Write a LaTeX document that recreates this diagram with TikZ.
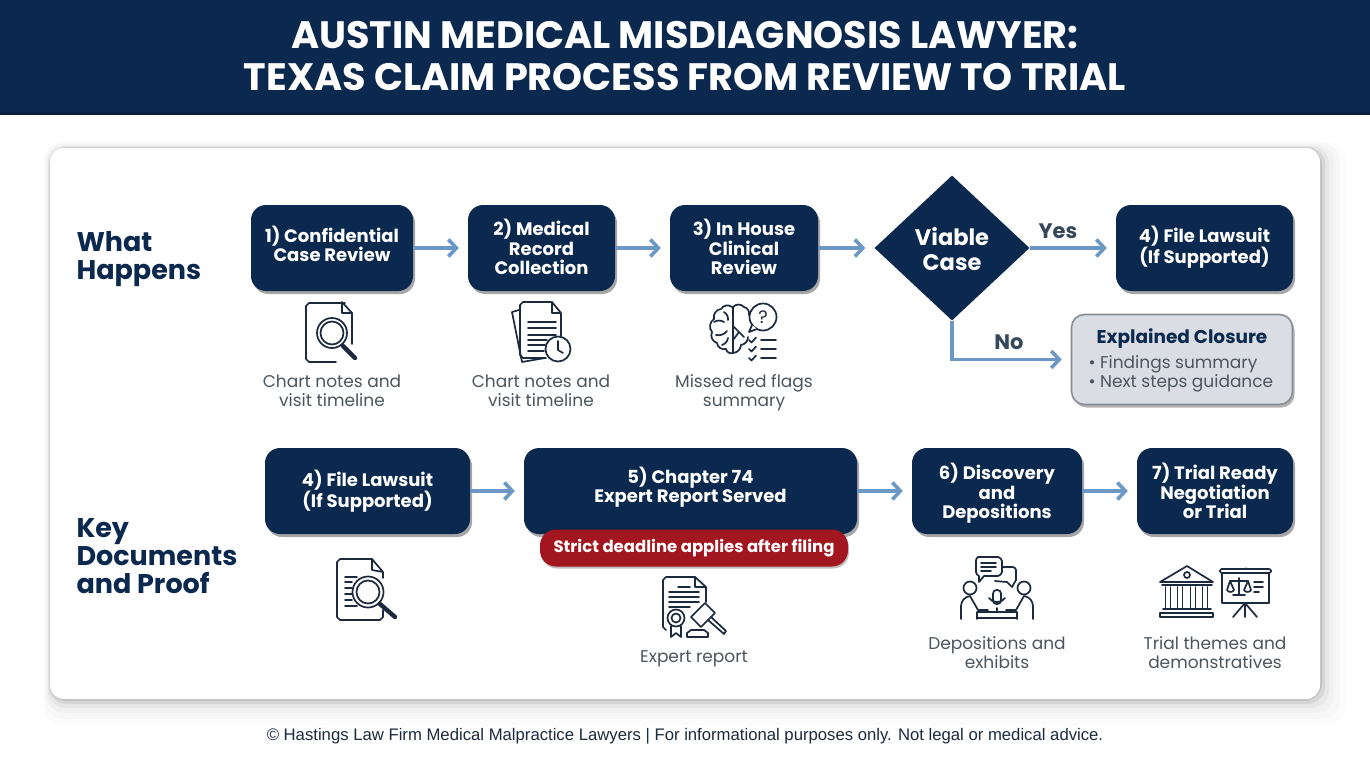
\documentclass[tikz,border=0pt]{standalone}
\usepackage{fontspec}
\setmainfont{Poppins}
\newfontfamily\footfont{Liberation Sans}
\usetikzlibrary{shapes.geometric,shadows,arrows.meta}
\definecolor{navy}{HTML}{0B284E}
\definecolor{flowblue}{HTML}{6C98C6}
\definecolor{greytext}{HTML}{4A5560}
\definecolor{inkline}{HTML}{1B2A3E}
\definecolor{closefill}{HTML}{DADEE4}
\definecolor{closeline}{HTML}{878D96}
\definecolor{alertred}{HTML}{A2161F}
\tikzset{
  stepbox/.style={fill=navy,rounded corners=15pt,text=white,align=center,minimum height=86pt,
    font=\fontsize{18}{19.5}\selectfont\bfseries,
    drop shadow={shadow xshift=2pt,shadow yshift=-3pt,opacity=.35,fill=black}},
  flow/.style={draw=flowblue,line width=3.6pt,-{Straight Barb[length=8pt,width=17pt,line width=3.6pt]},shorten >=9pt},
  flowlabel/.style={text=greytext!70!navy,font=\fontsize{21}{21}\selectfont\bfseries},
  sidelabel/.style={text=navy,align=left,anchor=west,font=\fontsize{27}{28}\selectfont\bfseries},
  caption/.style={text=greytext,align=center,font=\fontsize{17}{19}\selectfont},
  icon/.style={draw=inkline,line width=1.7pt,line cap=round,line join=round},
  iconthick/.style={draw=inkline,line width=4.4pt,line cap=round}
}
\begin{document}
\begin{tikzpicture}[x=1pt,y=-1pt]
\useasboundingbox (0,0) rectangle (1370,765);
\fill[fill=white] (0,0) rectangle (1370,765);
\fill[navy] (0,0) rectangle (1370,115);
\fill[navy!75!black] (0,112) rectangle (1370,115);
\node (title) at (685,56) [text=white,align=center,font=\fontsize{38.2}{42}\selectfont\bfseries] {AUSTIN MEDICAL MISDIAGNOSIS LAWYER:\\TEXAS CLAIM PROCESS FROM REVIEW TO TRIAL};

\foreach \s/\o in {26/.012,20/.018,14/.025,9/.04,5/.07,2/.1}
  \fill[black,opacity=\o,rounded corners=18pt] (50-\s/4,148-\s/4) rectangle (1320+\s,699+\s);
\node (card) at (685,423.5) [fill=white,rounded corners=14pt,minimum width=1270pt,minimum height=551pt] {};

\node (whathappens) at (73,259) [sidelabel] {What\\Happens};
\node (keydocs) at (73,556) [sidelabel] {Key\\Documents\\and Proof};

\node (review) at (332,248) [stepbox,minimum width=162pt,text depth=8pt] {1) Confidential\\Case Review};
\node (records) at (541.5,248) [stepbox,minimum width=147pt,text depth=2pt] {2) Medical\\Record\\Collection};
\node (clinical) at (744,248) [stepbox,minimum width=148pt,text depth=2pt] {3) In House\\Clinical\\Review};
\node (viable) at (952,248) [diamond,fill=navy,text=white,align=center,inner sep=0pt,minimum width=155pt,minimum height=145pt,text height=46pt,font=\fontsize{22.5}{25}\selectfont\bfseries] {Viable\\Case};
\node (lawsuit) at (1204.5,248) [stepbox,minimum width=177pt,text depth=6pt] {4) File Lawsuit\\(If Supported)};
\node (closure) at (1182,359.5) [fill=closefill,draw=closeline,line width=1.6pt,rounded corners=13pt,minimum width=221pt,minimum height=90pt,
  drop shadow={shadow xshift=2pt,shadow yshift=-3pt,opacity=.3,fill=black}] {};
\node (closehead) at (1182,339) [text=navy,font=\fontsize{18.5}{20}\selectfont\bfseries] {Explained Closure};
\node (closelist) at (1085,374) [anchor=west,text=greytext,align=left,font=\fontsize{17}{19}\selectfont] {\textbullet\ Findings summary\\\textbullet\ Next steps guidance};

\node (lawsuitb) at (367.5,491) [stepbox,minimum width=205pt] {4) File Lawsuit\\(If Supported)};
\node (chapter) at (690.5,491) [stepbox,minimum width=333pt,text depth=12pt] {5) Chapter 74\\Expert Report Served};
\node (discovery) at (997,491) [stepbox,minimum width=170pt,text depth=0pt] {6) Discovery\\and\\Depositions};
\node (trial) at (1215,491) [stepbox,minimum width=156pt] {7) Trial Ready\\Negotiation\\or Trial};
\node (deadline) at (694,548) [fill=alertred,text=white,rounded corners=16pt,minimum width=308pt,minimum height=37pt,font=\fontsize{16.5}{18}\selectfont\bfseries,
  drop shadow={shadow xshift=1pt,shadow yshift=-2pt,opacity=.25,fill=black}] {Strict deadline applies after filing};

\foreach \a/\b in {review/records,records/clinical,clinical/viable,viable/lawsuit,lawsuitb/chapter,chapter/discovery,discovery/trial}
  \draw[flow] (\a) -- (\b);
\coordinate (closein) at (closure.west);
\draw[flow] (viable.south) |- (closein);
\node (yes) at (1058,231) [flowlabel] {Yes};
\node (no) at (1009,342) [flowlabel] {No};

\node (cap1) at (332,390.5) [caption] {Chart notes and\\visit timeline};
\node (cap2) at (541,390.5) [caption] {Chart notes and\\visit timeline};
\node (cap3) at (744,392.5) [caption] {Missed red flags\\summary};
\node (cap5) at (694,658.5) [caption] {Expert report};
\node (cap6) at (997,652.5) [caption] {Depositions and\\exhibits};
\node (cap7) at (1215,652.5) [caption] {Trial themes and\\demonstratives};
\node (footer) at (685,736) [text=inkline,font=\fontsize{16.7}{18}\selectfont\footfont] {\textcopyright\ Hastings Law Firm Medical Malpractice Lawyers | For informational purposes only. Not legal or medical advice.};

% first document
\draw[icon] (345,303) -- (309,303) -- (306,306) -- (306,359) -- (309,362) -- (336,362);
\draw[icon] (342,302) -- (342,313) -- (352,313) -- (342,302);
\draw[icon] (352,313) -- (352,344);
\draw[icon] (332,333) circle (15) (332,333) circle (11.5);
\draw[iconthick] (343,346) -- (355,358);

% record stack
\draw[icon] (551,302) -- (523,302) -- (520,305) -- (520,355) -- (523,358) -- (546,358);
\draw[icon] (552,302) -- (552,313) -- (561,313) -- (552,302) (561,313) -- (561,336);
\draw[icon] (519,310) -- (512,312) -- (522,362) -- (545,358);
\foreach \y/\e in {322/556,328/556,335/556,340/547,345/545,351/544}
  \draw[icon] (528,\y) -- (\e,\y);
\draw[icon,fill=white] (558,349) circle (12.5);
\draw[icon] (558,341) -- (558,350) -- (563,353);

% brain and checklist
\draw[icon] (732,307) to[bend right=50] (721,309) to[bend right=50] (714,319) to[bend right=50] (712,332) to[bend right=50] (717,343) to[bend right=50] (726,349) to[bend right=50] (733,353) -- (733,307);
\draw[icon] (733,307) to[bend left=50] (744,307) to[bend left=45] (749,315) (748,337) to[bend left=40] (741,345) to[bend left=40] (733,353);
\draw[icon] (714,322) to[bend left=30] (724,322) (716,335) to[bend right=30] (727,331) (722,345) to[bend right=30] (728,338) (724,312) to[bend left=30] (728,320) (733,326) -- (744,337) (733,340) -- (739,332);
\draw[icon] (763,317) circle (13.5);
\draw[icon,fill=white] (752,325) -- (749,332) -- (757,329);
\node (ask) at (763,317) [text=inkline,font=\fontsize{18}{18}\selectfont] {?};
\foreach \y in {340,349,358} {
  \draw[icon] (749,\y) -- (751.5,\y+2.5) -- (756,\y-2.5);
  \draw[icon] (761,\y) -- (776,\y);
}

% second magnifier document
\draw[icon] (372,559) -- (340,559) -- (337,562) -- (337,617) -- (340,620) -- (380,620) -- (383,617) -- (383,610);
\draw[icon] (372,559) -- (372,570) -- (383,572) -- (372,559) (383,572) -- (383,578);
\foreach \y/\e in {577/357,582/352,588/352,594/352,600/352,606/357}
  \draw[icon] (345,\y) -- (\e,\y);
\draw[icon] (368,592) circle (15.5) (368,592) circle (11.5);
\draw[iconthick] (380,604) -- (395,617);

% report and gavel
\draw[icon] (695,577) -- (666,577) -- (663,580) -- (663,627) -- (666,630);
\draw[icon] (695,577) -- (695,587) -- (706,587) -- (695,577) (706,587) -- (706,602);
\draw[icon] (678,587) -- (690,587);
\foreach \y/\e in {592/699,597/699,602/699,607/690}
  \draw[icon] (669,\y) -- (\e,\y);
\draw[icon] (676,618) circle (8.5) (676,618) circle (4.5);
\draw[icon] (671,626) -- (671,637) -- (676,633) -- (681,637) -- (681,626);
\draw[icon,fill=white] (691,617) -- (705,603) -- (715,613) -- (701,627) -- cycle;
\draw[icon] (708,620) -- (724,634) -- (726,631) -- (711,617);
\draw[icon] (687,637) -- (708,637) -- (708,633) -- (704,630) -- (691,630) -- (687,633) -- cycle;

% deposition table
\draw[icon] (978,557) -- (998,557) to[bend left=30] (1002,561) -- (1002,572) to[bend left=30] (998,576) -- (984,576) -- (979,582) -- (979,576) to[bend left=30] (976,572) -- (976,561) to[bend left=30] (978,557);
\draw[icon] (981,563) -- (996,563) (981,567) -- (996,567) (981,571) -- (991,571);
\draw[icon] (1003,567) -- (1013,567) to[bend left=30] (1016,570) -- (1016,580) -- (1012,587) -- (1007,582) -- (995,581);
\draw[icon] (970,588) circle (6.5) (1024,588) circle (6.5);
\draw[icon] (961,619) -- (961,606) to[bend left=40] (970,596) -- (978,610) -- (988,610);
\draw[icon] (1033,619) -- (1033,606) to[bend right=40] (1024,596) -- (1016,610) -- (1006,610);
\draw[icon] (977,612) -- (1017,612) (977,612) -- (977,619) (1017,612) -- (1017,619) (977,618) -- (1017,618);
\draw[icon,rounded corners=3.5pt] (993,590) rectangle (1001,604);
\draw[icon] (989,598) to[bend right=60] (1005,598) (997,608) -- (997,612);

% courthouse and board
\draw[icon] (1187,566) -- (1160,582) -- (1213,582) -- cycle;
\draw[icon] (1187,575) circle (3);
\draw[icon] (1162,585) -- (1212,585);
\foreach \x in {1168,1180,1193,1205}
  \draw[icon] (\x-2.5,587) -- (\x-2.5,608) (\x+2.5,587) -- (\x+2.5,608);
\draw[icon] (1163,609) -- (1211,609);
\draw[icon] (1160,613) rectangle (1213,617);
\draw[icon] (1222,574) -- (1222,603) -- (1269,603) -- (1269,574);
\draw[icon,rounded corners=1.5pt] (1220,569) rectangle (1271,573);
\draw[icon] (1245,569) to[bend left=70] (1247,569);
\draw[icon] (1245,603) -- (1233,617) (1245,603) -- (1257,617) (1245,603) -- (1245,617);
\draw[icon] (1239,578) -- (1239,595) (1233,595) -- (1245,595) (1230,581) -- (1248,581);
\draw[icon] (1227,590) -- (1230,581) -- (1234,590) to[bend left=70] (1227,590);
\draw[icon] (1244,590) -- (1248,581) -- (1251,590) to[bend left=70] (1244,590);
\foreach \y/\e in {582/1263,587/1263,592/1259}
  \draw[icon] (1254,\y) -- (\e,\y);
\end{tikzpicture}
\end{document}
